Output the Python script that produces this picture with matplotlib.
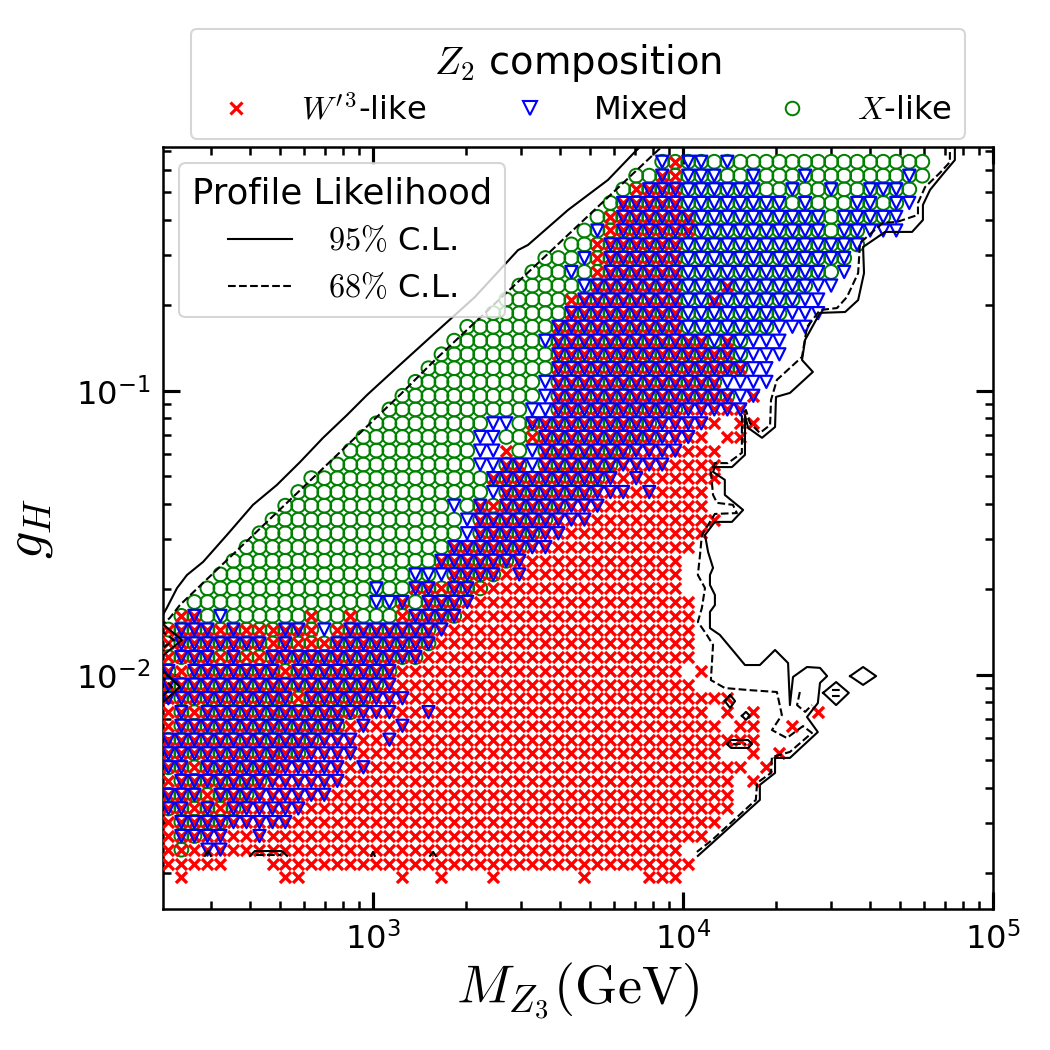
import numpy as np
import matplotlib
matplotlib.use("Agg")
import matplotlib.pyplot as plt
from matplotlib.lines import Line2D
from matplotlib.ticker import NullFormatter

plt.rcParams["font.family"] = ["DejaVu Sans"]
plt.rcParams["mathtext.fontset"] = "cm"
plt.rcParams["axes.unicode_minus"] = False

# ---------------- data ----------------
# scan grid: log10(M_Z3 / GeV) for each column, log10(g_H) for each row
log_mass_grid = [2.340, 2.382, 2.424, 2.466, 2.508, 2.550, 2.592, 2.634, 2.676, 2.717,
                 2.759, 2.801, 2.843, 2.885, 2.927, 2.969, 3.011, 3.053, 3.095, 3.137,
                 3.179, 3.221, 3.262, 3.304, 3.346, 3.388, 3.430, 3.472, 3.514, 3.556,
                 3.598, 3.640, 3.682, 3.724, 3.766, 3.807, 3.849, 3.891, 3.933, 3.975,
                 4.017, 4.059, 4.101, 4.143, 4.185, 4.227, 4.269, 4.311, 4.353, 4.394,
                 4.436, 4.478, 4.520, 4.562, 4.604, 4.646, 4.688, 4.730, 4.772]
log_gH_grid = [-2.712, -2.664, -2.615, -2.567, -2.518, -2.470, -2.422, -2.373, -2.325, -2.276,
               -2.228, -2.179, -2.131, -2.082, -2.034, -1.986, -1.937, -1.889, -1.840, -1.792,
               -1.743, -1.695, -1.646, -1.598, -1.550, -1.501, -1.453, -1.404, -1.356, -1.307,
               -1.259, -1.210, -1.162, -1.114, -1.065, -1.017, -0.968, -0.920, -0.871, -0.823,
               -0.774, -0.726, -0.678, -0.629, -0.581, -0.532, -0.484, -0.435, -0.387, -0.338,
               -0.290, -0.242, -0.193]

# composition of each grid cell, rows from bottom (lowest g_H) to top, run-length coded
# x = W'3-like, v = Mixed, o = X-like ; a = x+v+o, b = v+o, r = x+v, g = x+o ; . = none
composition_rows = [
    ".1 x1 .7 x2 .7 x1 .2 x1 .3 x1 .6 x1 .4 x3 .19",
    "x5 .3 x33 .18",
    "x1 g1 x1 r2 x35 .19",
    "x1 a2 r2 x2 r1 x34 .17",
    "x1 a4 r5 x33 .16",
    "a2 g1 a1 g1 a1 r5 x33 .15",
    "a3 g1 a3 r6 x31 .15",
    "x1 a7 r6 x30 .1 x1 .13",
    "a2 g1 a6 r5 x1 r1 x29 .1 x1 .12",
    "a11 r4 x28 .2 x1 .1 x1 .11",
    "a12 r3 x2 r1 x28 .13",
    "x1 a13 x1 r1 x2 r1 x24 .1 x2 .2 x1 .10",
    "x1 a1 g1 a12 r3 x2 r1 x21 .1 x1 .1 x1 .4 x1 .8",
    "r1 a9 g1 a5 r3 x25 .15",
    "a17 r1 x23 .18",
    "a1 x1 a7 g1 a8 x22 .1 x1 .17",
    "g1 a3 g1 a1 g2 a12 x21 .18",
    "x1 a7 g1 a1 g3 a8 x20 .18",
    "g1 a3 g1 a1 g3 a2 g1 v1 g1 a7 r1 x19 .18",
    ".1 g1 a1 o1 b1 o6 g1 o2 g1 o3 g1 a4 x18 .18",
    ".2 o14 b2 a1 o1 a3 r1 x17 .18",
    ".3 o13 b1 o2 a2 g1 a2 g1 x15 .19",
    ".4 o15 b2 v1 a4 x1 r1 x12 .19",
    ".5 o16 a6 r1 x12 .19",
    ".6 o16 a6 r2 x11 .18",
    ".7 o16 v1 a5 r2 x11 .17",
    ".8 o15 v1 a6 r3 x10 .16",
    ".9 o13 v1 o1 a1 g1 a5 r3 x8 .17",
    ".10 o15 v1 a7 r3 x1 r1 x4 .17",
    ".11 o14 a9 r1 x1 r1 x6 .16",
    ".13 o11 v2 a2 v1 a6 r4 x4 .16",
    ".14 o10 v2 x1 o1 v1 a7 r4 x3 .16",
    ".15 o9 v2 o2 g1 a9 r3 x1 .1 x2 .14",
    ".16 o9 v2 o1 a10 r4 x1 .1 x2 .13",
    ".17 o11 v2 a10 r5 .14",
    ".18 o11 v1 a14 v1 r1 .13",
    ".19 o10 v1 a13 v4 .12",
    ".20 o10 a15 v2 .12",
    ".21 o9 a14 b1 v3 .11",
    ".22 o7 b1 a12 b1 a1 b1 v3 .11",
    ".23 o7 a10 b7 v3 .9",
    ".25 o6 a9 b8 v3 .8",
    ".26 o5 g1 a8 b2 a1 b6 v2 .8",
    ".27 o5 b1 a7 b3 a1 b6 v2 .7",
    ".28 o3 b1 o1 g1 a6 b11 o1 v1 .6",
    ".29 o3 b1 g1 a6 b13 .6",
    ".31 o2 g1 a6 b14 .5",
    ".32 o1 b1 g1 a6 b10 o1 b2 v3 .2",
    ".33 o1 g1 a6 b10 o1 b4 v1 .2",
    ".34 o1 a5 b8 o1 b1 o3 b2 o1 b1 v1 .1",
    ".35 o1 g1 a3 b6 o2 b1 o2 b1 o2 b3 o1 .1",
    ".36 o2 a1 g1 b3 o2 b1 o3 b1 o7 b1 o1",
    ".38 b1 g1 b2 o1 b1 o15",
]

# profile-likelihood contours, vertices as (log10 M_Z3, log10 g_H)
cl95_upper = [(3.881, -0.120), (3.845, -0.158), (3.758, -0.257), (3.629, -0.363), (3.500, -0.486),
              (3.468, -0.504), (3.329, -0.669), (3.200, -0.796), (3.087, -0.908), (2.981, -1.014),
              (2.916, -1.085), (2.839, -1.165), (2.765, -1.250), (2.690, -1.331), (2.613, -1.401),
              (2.529, -1.507), (2.452, -1.602), (2.400, -1.648), (2.368, -1.694), (2.335, -1.764),
              (2.313, -1.806)]
cl68_upper = [(3.952, -0.120), (3.910, -0.162), (3.200, -0.891), (3.087, -1.014), (2.377, -1.754),
              (2.345, -1.799), (2.313, -1.830)]
cl95_right = [(4.877, -0.120), (4.877, -0.187), (4.839, -0.236), (4.797, -0.292), (4.774, -0.345),
              (4.774, -0.398), (4.739, -0.440), (4.652, -0.440), (4.581, -0.493), (4.584, -0.585),
              (4.565, -0.680), (4.523, -0.722), (4.442, -0.725), (4.394, -0.820), (4.384, -0.891),
              (4.419, -0.933), (4.345, -1.007), (4.300, -1.021), (4.297, -1.127), (4.255, -1.165),
              (4.210, -1.130), (4.200, -1.085), (4.200, -1.225), (4.158, -1.268), (4.103, -1.268),
              (4.097, -1.285), (4.135, -1.313), (4.135, -1.366), (4.194, -1.419), (4.158, -1.461),
              (4.103, -1.461), (4.071, -1.507), (4.081, -1.567), (4.097, -1.623), (4.087, -1.648),
              (4.087, -1.683), (4.103, -1.718), (4.103, -1.754), (4.087, -1.778), (4.087, -1.835),
              (4.119, -1.859), (4.168, -1.923), (4.200, -1.965), (4.248, -1.965), (4.297, -1.912),
              (4.339, -1.958), (4.345, -2.106), (4.355, -2.007), (4.400, -1.972), (4.442, -1.975),
              (4.465, -2.004), (4.442, -2.028), (4.435, -2.099), (4.400, -2.148), (4.435, -2.201),
              (4.345, -2.292), (4.297, -2.292), (4.297, -2.345), (4.248, -2.387), (4.248, -2.440),
              (4.087, -2.599), (4.048, -2.637)]
cl68_right = [(4.861, -0.120), (4.861, -0.194), (4.829, -0.232), (4.781, -0.282), (4.758, -0.338),
              (4.758, -0.380), (4.690, -0.405), (4.645, -0.408), (4.571, -0.479), (4.565, -0.585),
              (4.529, -0.669), (4.497, -0.708), (4.442, -0.715), (4.400, -0.775), (4.384, -0.880),
              (4.303, -0.961), (4.284, -1.032), (4.281, -1.120), (4.248, -1.148), (4.216, -1.113),
              (4.203, -1.067), (4.190, -1.085), (4.190, -1.218), (4.145, -1.254), (4.103, -1.254),
              (4.090, -1.285), (4.097, -1.366), (4.110, -1.394), (4.161, -1.401), (4.174, -1.430),
              (4.103, -1.433), (4.061, -1.507), (4.055, -1.577), (4.048, -1.648), (4.071, -1.694),
              (4.061, -1.764), (4.048, -1.813), (4.077, -1.859), (4.097, -1.894), (4.090, -2.018),
              (4.135, -2.046), (4.210, -2.053), (4.303, -2.060), (4.319, -2.141), (4.287, -2.194),
              (4.335, -2.222), (4.387, -2.180), (4.416, -2.204), (4.345, -2.271), (4.287, -2.289),
              (4.284, -2.345), (4.239, -2.380), (4.235, -2.440), (4.094, -2.581), (4.045, -2.623)]
cl68_lobe = [(4.377, -2.060), (4.368, -2.106), (4.394, -2.130), (4.416, -2.106)]
cl95_islands = [
    [(4.539, -2.004), (4.581, -1.972), (4.623, -2.004), (4.581, -2.035), (4.539, -2.004)],
    [(4.452, -2.063), (4.494, -2.025), (4.535, -2.063), (4.494, -2.106), (4.452, -2.063)],
    [(4.135, -2.092), (4.152, -2.070), (4.168, -2.092), (4.152, -2.116), (4.135, -2.092)],
    [(4.190, -2.144), (4.203, -2.130), (4.216, -2.144), (4.203, -2.158), (4.190, -2.144)],
    [(4.142, -2.243), (4.155, -2.229), (4.210, -2.229), (4.223, -2.243), (4.210, -2.257),
     (4.155, -2.257), (4.142, -2.243)],
    [(2.313, -1.813), (2.384, -1.877), (2.313, -1.940)],
    [(2.313, -1.975), (2.377, -2.042), (2.313, -2.106)],
    [(2.603, -2.637), (2.619, -2.620), (2.706, -2.620), (2.723, -2.637)],
    [(2.458, -2.637), (2.468, -2.620), (2.477, -2.637)],
    [(2.994, -2.637), (3.000, -2.623), (3.006, -2.637)],
    [(3.184, -2.637), (3.194, -2.623), (3.203, -2.637)],
]
cl68_islands = [
    [(4.481, -2.053), (4.506, -2.053)],
    [(4.481, -2.074), (4.506, -2.074)],
    [(4.161, -2.243), (4.203, -2.243)],
    [(2.313, -1.842), (2.358, -1.877), (2.313, -1.912)],
    [(2.313, -2.000), (2.352, -2.042), (2.313, -2.085)],
    [(2.622, -2.634), (2.703, -2.634)],
]

# ---------------- build the point sets ----------------
code_map = {"x": "x", "v": "v", "o": "o", "a": "xvo", "b": "vo", "r": "xv", "g": "xo", ".": ""}
pts = {"x": ([], []), "v": ([], []), "o": ([], [])}
ncol = len(log_mass_grid)
for r, row in enumerate(composition_rows):
    c = 0
    for tok in row.split():
        kind, n = tok[0], int(tok[1:])
        for k in range(n):
            if c + k < ncol:
                for m in code_map[kind]:
                    pts[m][0].append(10 ** log_mass_grid[c + k])
                    pts[m][1].append(10 ** log_gH_grid[r])
        c += n

# ---------------- figure ----------------
fig = plt.figure(figsize=(7, 7), dpi=150)
ax = fig.add_axes([0.1552, 0.1343, 0.7905, 0.7257])
ax.set_xscale("log")
ax.set_yscale("log")

ax.scatter(pts["o"][0], pts["o"][1], marker="o", s=44, facecolors="none",
           edgecolors="green", linewidths=0.95, zorder=2)
ax.scatter(pts["x"][0], pts["x"][1], marker="x", s=28, c="red", linewidths=1.6, zorder=3)
ax.scatter(pts["v"][0], pts["v"][1], marker="v", s=34, facecolors="none",
           edgecolors="blue", linewidths=1.05, zorder=4)


def draw(path, ls):
    arr = np.array(path)
    ax.plot(10 ** arr[:, 0], 10 ** arr[:, 1], color="black", ls=ls, lw=1.0, zorder=5)


for p in [cl95_upper, cl95_right] + cl95_islands:
    draw(p, "-")
for p in [cl68_upper, cl68_right, cl68_lobe] + cl68_islands:
    draw(p, "--")

ax.set_xlim(10 ** 2.3226, 1e5)
ax.set_ylim(10 ** -2.824, 10 ** -0.141)

ax.tick_params(which="both", direction="in", top=True, right=True)
ax.tick_params(which="major", length=8, width=1.5, labelsize=15.5, pad=6)
ax.tick_params(which="minor", length=4, width=1.2)
ax.xaxis.set_minor_formatter(NullFormatter())
ax.yaxis.set_minor_formatter(NullFormatter())
for s in ax.spines.values():
    s.set_linewidth(1.2)

ax.set_xlabel(r"$M_{Z_3}(\rm GeV)$", fontsize=26, labelpad=2)
ax.set_ylabel(r"$g_H$", fontsize=26, labelpad=10)

cl_handles = [Line2D([], [], color="black", ls="-", lw=1.0),
              Line2D([], [], color="black", ls="--", lw=1.0)]
leg1 = ax.legend(cl_handles, [r"$95\%$ C.L.", r"$68\%$ C.L."], title="Profile Likelihood",
                 loc="upper left", fontsize=15.5, title_fontsize=17,
                 handlelength=2.0, handletextpad=1.1)
ax.add_artist(leg1)

comp_handles = [Line2D([], [], marker="x", color="red", ls="none", markersize=6.0, mew=1.5),
                Line2D([], [], marker="v", color="blue", mfc="none", ls="none", markersize=6.5, mew=1.0),
                Line2D([], [], marker="o", color="green", mfc="none", ls="none", markersize=6.5, mew=0.95)]
ax.legend(comp_handles, [r"$W'^3$-like", "Mixed", r"$X$-like"], title=r"$Z_2$ composition",
          ncol=3, loc="lower center", bbox_to_anchor=(0.5, 1.0), borderaxespad=0.25,
          columnspacing=2.2, handletextpad=1.0, fontsize=15.5, title_fontsize=18.5,
          labelspacing=0.3)

fig.savefig("out.png", dpi=150)
